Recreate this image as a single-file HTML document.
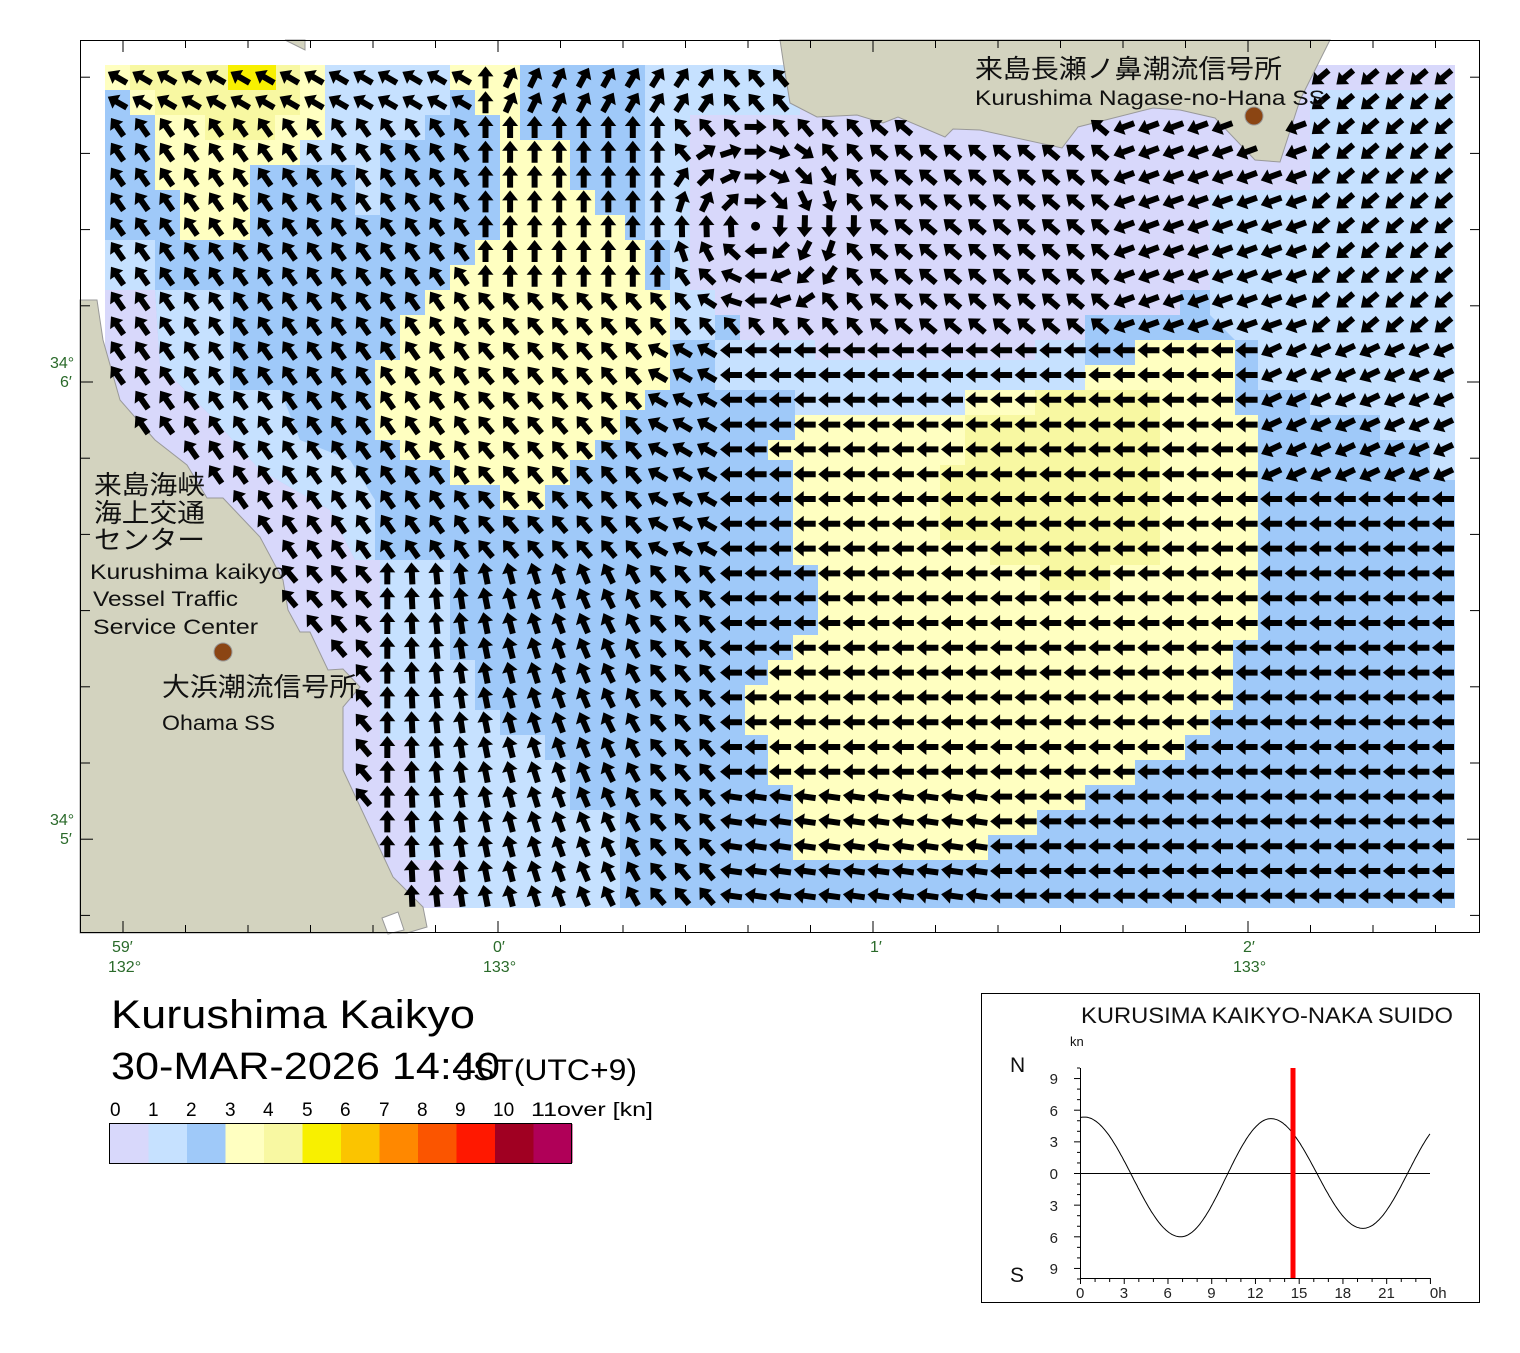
<!DOCTYPE html>
<html><head><meta charset="utf-8">
<style>
html,body{margin:0;padding:0;background:#fff;}
svg{display:block;font-family:"Liberation Sans","Noto Sans CJK JP",sans-serif;}
</style></head>
<body>
<svg id="s" width="1520" height="1353" viewBox="0 0 1520 1353" xmlns="http://www.w3.org/2000/svg">
<rect width="1520" height="1353" fill="#fff"/>
<g id="cells">
<rect x="105" y="65" width="1350" height="843" fill="#9fc9f9"/>
<polygon fill="#c6e1ff" points="300,65 450,65 450,115 425,115 425,140 380,140 380,215 355,215 355,165 300,165"/>
<polygon fill="#c6e1ff" points="645,65 800,65 800,115 715,115 715,340 670,340 670,240 645,240"/>
<polygon fill="#c6e1ff" points="105,240 155,240 155,290 105,290"/>
<polygon fill="#c6e1ff" points="155,290 230,290 230,390 280,390 300,440 350,460 375,500 375,560 355,560 330,510 260,470 210,415 160,365"/>
<polygon fill="#c6e1ff" points="375,560 450,560 450,660 475,660 475,710 500,710 500,735 545,735 545,760 570,760 570,810 620,810 620,908 460,908 460,860 410,860 410,740 380,740"/>
<polygon fill="#c6e1ff" points="1310,90 1455,90 1455,480 1430,480 1430,440 1380,440 1380,415 1310,415 1310,390 1258,390 1258,340 1235,340 1210,315 1210,190 1310,190"/>
<polygon fill="#c6e1ff" points="715,340 1085,340 1085,390 965,390 965,415 795,415 795,390 715,390"/>
<polygon fill="#d8d8fb" points="105,290 155,290 160,365 210,415 260,470 330,510 355,560 380,560 380,740 410,740 410,860 460,860 460,908 105,908"/>
<polygon fill="#d8d8fb" points="690,115 800,115 800,65 1455,65 1455,90 1310,90 1310,190 1210,190 1210,290 1180,290 1180,315 1085,315 1085,340 1035,340 1035,360 815,360 815,340 740,340 740,315 715,315 715,290 690,290"/>
<polygon fill="#ffffc1" points="105,65 325,65 325,140 300,140 300,165 250,165 250,240 180,240 180,190 155,190 155,115 130,115 130,90 105,90"/>
<polygon fill="#f8f8a2" points="130,65 300,65 300,115 275,115 275,140 205,140 205,115 155,115 155,90 130,90"/>
<rect x="228" y="65" width="48" height="25" fill="#f8f000"/>
<polygon fill="#ffffc1" points="450,65 520,65 520,140 570,140 570,190 595,190 595,215 625,215 625,240 645,240 645,290 670,290 670,390 645,390 645,410 620,410 620,440 595,440 595,460 570,460 570,485 545,485 545,510 500,510 500,485 450,485 450,460 400,460 400,440 375,440 375,360 400,360 400,315 425,315 425,290 450,290 450,265 475,265 475,240 500,240 500,115 475,115 475,90 450,90"/>
<polygon fill="#ffffc1" points="795,415 965,415 965,390 1085,390 1085,365 1135,365 1135,340 1235,340 1235,415 1258,415 1258,640 1233,640 1233,710 1210,710 1210,735 1185,735 1185,760 1135,760 1135,785 1085,785 1085,810 1037,810 1037,835 988,835 988,860 793,860 793,785 768,785 768,735 745,735 745,685 768,685 768,660 793,660 793,635 818,635 818,565 793,565 793,460 768,460 768,440 795,440"/>
<polygon fill="#f8f8a2" points="965,415 1035,415 1035,390 1160,390 1160,465 1160,565 1110,565 1110,590 1040,590 1040,565 990,565 990,540 940,540 940,465 965,465"/>
</g>
<g fill="#d3d3bf" stroke="#999" stroke-width="1">
<polygon points="80,300 97,300 103,340 120,400 155,440 187,465 207,498 223,498 260,537 283,580 288,610 300,632 310,632 328,670 343,669 360,687 343,707 343,770 393,877 423,907 427,927 407,933 80,933"/>
<polygon points="780,40 1330,40 1300,100 1280,162 1255,160 1215,118 1180,110 1153,108 1078,127 1062,148 980,130 953,129 945,137 898,117 883,123 857,115 817,117 790,103 783,60"/>
<polygon points="285,40 305,40 305,50"/>
</g>
<polygon points="382,918 398,912 404,930 388,934" fill="#fff" stroke="#999"/>
<g id="arrows" fill="#000"></g>
<rect x="80.5" y="40.5" width="1399" height="892" fill="none" stroke="#000" stroke-width="1"/>
<g id="ticks" stroke="#000" stroke-width="1"></g>
<g fill="#2a6a2a" font-size="16">
<text x="112" y="952">59′</text><text x="108" y="972">132°</text>
<text x="493" y="952">0′</text><text x="483" y="972">133°</text>
<text x="870" y="952">1′</text>
<text x="1243" y="952">2′</text><text x="1233" y="972">133°</text>
<text x="50" y="368">34°</text><text x="60" y="387">6′</text>
<text x="50" y="825">34°</text><text x="60" y="844">5′</text>
</g>
<circle cx="1254" cy="116" r="9" fill="#8b4513" stroke="#999"/>
<circle cx="223" cy="652" r="9" fill="#8b4513" stroke="#999"/>
<g fill="#111">
<text x="975" y="78" font-size="26" textLength="307" lengthAdjust="spacingAndGlyphs">来島長瀬ノ鼻潮流信号所</text>
<text x="975" y="105" font-size="21" textLength="350" lengthAdjust="spacingAndGlyphs">Kurushima Nagase-no-Hana SS</text>
<text x="94" y="494" font-size="26" textLength="111" lengthAdjust="spacingAndGlyphs">来島海峡</text>
<text x="94" y="522" font-size="26" textLength="111" lengthAdjust="spacingAndGlyphs">海上交通</text>
<text x="94" y="549" font-size="26" textLength="111" lengthAdjust="spacingAndGlyphs">センター</text>
<text x="90" y="579" font-size="21" textLength="195" lengthAdjust="spacingAndGlyphs">Kurushima kaikyo</text>
<text x="93" y="606" font-size="21" textLength="145" lengthAdjust="spacingAndGlyphs">Vessel Traffic</text>
<text x="93" y="634" font-size="21" textLength="165" lengthAdjust="spacingAndGlyphs">Service Center</text>
<text x="162" y="696" font-size="26" textLength="195" lengthAdjust="spacingAndGlyphs">大浜潮流信号所</text>
<text x="162" y="730" font-size="21" textLength="113" lengthAdjust="spacingAndGlyphs">Ohama SS</text>
</g>
<text x="111" y="1028" font-size="40" fill="#000" textLength="364" lengthAdjust="spacingAndGlyphs">Kurushima Kaikyo</text>
<text x="111" y="1079" font-size="38" fill="#000" textLength="389" lengthAdjust="spacingAndGlyphs">30-MAR-2026 14:40</text>
<text x="457" y="1080" font-size="30" fill="#000" textLength="180" lengthAdjust="spacingAndGlyphs">JST(UTC+9)</text>
<g font-size="19" fill="#000">
<text x="110" y="1116">0</text><text x="148" y="1116">1</text><text x="186" y="1116">2</text><text x="225" y="1116">3</text><text x="263" y="1116">4</text><text x="302" y="1116">5</text><text x="340" y="1116">6</text><text x="379" y="1116">7</text><text x="417" y="1116">8</text><text x="455" y="1116">9</text><text x="493" y="1116">10</text><text x="531" y="1116" textLength="122" lengthAdjust="spacingAndGlyphs">11over [kn]</text>
</g>
<g id="cbar"></g>
<rect x="109.5" y="1123.5" width="462" height="40" fill="none" stroke="#000"/>
<rect x="981.5" y="993.5" width="498" height="309" fill="none" stroke="#000"/>
<text x="1081" y="1023" font-size="22" fill="#111" textLength="372" lengthAdjust="spacingAndGlyphs">KURUSIMA KAIKYO-NAKA SUIDO</text>
<text x="1070" y="1046" font-size="13" fill="#111">kn</text>
<text x="1010" y="1072" font-size="21" fill="#111">N</text>
<text x="1010" y="1282" font-size="21" fill="#111">S</text>
<g font-size="15" fill="#222" text-anchor="end">
<text x="1058" y="1084">9</text><text x="1058" y="1116">6</text><text x="1058" y="1147">3</text><text x="1058" y="1179">0</text><text x="1058" y="1211">3</text><text x="1058" y="1243">6</text><text x="1058" y="1274">9</text>
</g>
<g id="tc" stroke="#000" stroke-width="1"></g>
<g id="tl" font-size="15" fill="#222"></g>
<line x1="1080" y1="1173.5" x2="1430" y2="1173.5" stroke="#000"/>
<path id="curve" fill="none" stroke="#000" stroke-width="1"/>
<rect x="1290.5" y="1068" width="5" height="210" fill="#ff0000"/>
</svg>
<script>
var NS="http://www.w3.org/2000/svg";
function el(t,a,p){var e=document.createElementNS(NS,t);for(var k in a)e.setAttribute(k,a[k]);p.appendChild(e);return e;}
function pip(x,y,pts){var c=false;for(var i=0,j=pts.length-1;i<pts.length;j=i++){var xi=pts[i][0],yi=pts[i][1],xj=pts[j][0],yj=pts[j][1];if(((yi>y)!=(yj>y))&&(x<(xj-xi)*(y-yi)/(yj-yi)+xi))c=!c;}return c;}
function P(s){return s.trim().split(/\s+/).map(function(p){return p.split(',').map(Number);});}
var lands=[P("80,300 97,300 103,340 120,400 155,440 187,465 207,498 223,498 260,537 283,580 288,610 300,632 310,632 328,670 343,669 360,687 343,707 343,770 393,877 423,907 427,927 407,933 80,933"),
P("780,40 1330,40 1300,100 1280,162 1255,160 1215,118 1180,110 1153,108 1078,127 1062,148 980,130 953,129 945,137 898,117 883,123 857,115 817,117 790,103 783,60")];
function dir(x,y){
 var dx=x-755,dy=y-225,r=Math.sqrt(dx*dx+dy*dy);
 if(r<100){ if(r<8) return null; return Math.atan2(-dx,-dy)*180/Math.PI; }
 if(y<110&&x>500&&x<720) return 65+(x-520)*-0.05;
 if(y<290&&x>=480&&x<=680) return 90;
 if(x>1300&&y<330) return 220;
 if(x>1100&&y<340) return 200;
 if(x>855&&y<340) return 140;
 if(x>1250&&y<480) return 205;
 if(x>720&&y>=340){ return (y>780&&x<1000)?172:180;}
 if(x<720&&y>=340&&x>640&&y<560) return 150;
 if(y>560&&x<640&&x>370){ return 90+Math.max(0,(x-390))/250*30;}
 if(y<110&&x<480) return 150;
 if(x<480&&y<560) return 125;
 return 130;
}
var g=document.getElementById('arrows');
var cw=24.55,ch=24.8;
for(var i=0;i<55;i++)for(var j=0;j<34;j++){
 var cx=105+cw*(i+0.5),cy=65+ch*(j+0.5);
 if(cy>908)continue;
 var onLand=false;for(var k=0;k<2;k++)if(pip(cx,cy,lands[k]))onLand=true;
 if(onLand)continue;
 var a=dir(cx,cy);
 if(a===null){el('circle',{cx:cx,cy:cy,r:4.5},g);continue;}
 var L=22,h=10;
 el('polygon',{points:(-L/2)+",-3 "+(L/2-h)+",-3 "+(L/2-h)+",-8 "+(L/2)+",0 "+(L/2-h)+",8 "+(L/2-h)+",3 "+(-L/2)+",3",transform:"translate("+cx.toFixed(1)+","+cy.toFixed(1)+") rotate("+(-a)+")"},g);
}
var t=document.getElementById('ticks');
for(var x=123;x<1480;x+=62.5){var big=Math.abs(((x-123)/62.5)%6)<0.01;el('line',{x1:x,y1:40,x2:x,y2:big?52:48},t);el('line',{x1:x,y1:933,x2:x,y2:big?921:925},t);}
for(var y=382-76.2*4;y<933;y+=76.2){var b=Math.abs(y-382)<1||Math.abs(y-839)<2;el('line',{x1:80,y1:y,x2:b?93:90,y2:y},t);el('line',{x1:1480,y1:y,x2:b?1467:1470,y2:y},t);}
var cols=["#d8d8fb","#c6e1ff","#9fc9f9","#ffffc1","#f8f8a2","#f8f000","#fbc400","#ff8800","#fb5500","#ff1800","#a00022","#b00058"];
var cb=document.getElementById('cbar');
for(var k=0;k<12;k++)el('rect',{x:110+k*38.5,y:1124,width:39,height:39,fill:cols[k]},cb);
var tc=document.getElementById('tc'),tl=document.getElementById('tl');
el('line',{x1:1080.5,y1:1068,x2:1080.5,y2:1278},tc);
el('line',{x1:1080,y1:1278.5,x2:1430,y2:1278.5},tc);
for(var v=-10;v<=10;v++){var yy=1173.5-v*10.55;el('line',{x1:1080,y1:yy,x2:(v%3==0)?1074:1077,y2:yy},tc);}
for(var hh=0;hh<=24;hh++){var xx=1080.5+hh*14.58;el('line',{x1:xx,y1:1278,x2:xx,y2:(hh%3==0)?1284:1282},tc);}
var lab=["0","3","6","9","12","15","18","21","0h"];
for(var q=0;q<9;q++){var e=el('text',{x:1080+q*3*14.58-(q==8?0:(lab[q].length*4)),y:1298},tl);e.textContent=lab[q];}
var ex=[[-6.2,-5.8],[0.3,5.35],[6.9,-6.0],[13.1,5.2],[19.4,-5.2],[25.6,5.4]];
function val(h){for(var i=0;i<ex.length-1;i++){if(h>=ex[i][0]&&h<=ex[i+1][0]){var f=(h-ex[i][0])/(ex[i+1][0]-ex[i][0]);var c=(1-Math.cos(Math.PI*f))/2;return ex[i][1]+(ex[i+1][1]-ex[i][1])*c;}}return 0;}
var d="";for(var h2=0;h2<=24.001;h2+=0.1){d+=(h2==0?"M":"L")+(1080+h2*14.58).toFixed(1)+","+(1173.5-val(h2)*10.55).toFixed(1)+" ";}
document.getElementById('curve').setAttribute('d',d);
</script>
</body></html>
